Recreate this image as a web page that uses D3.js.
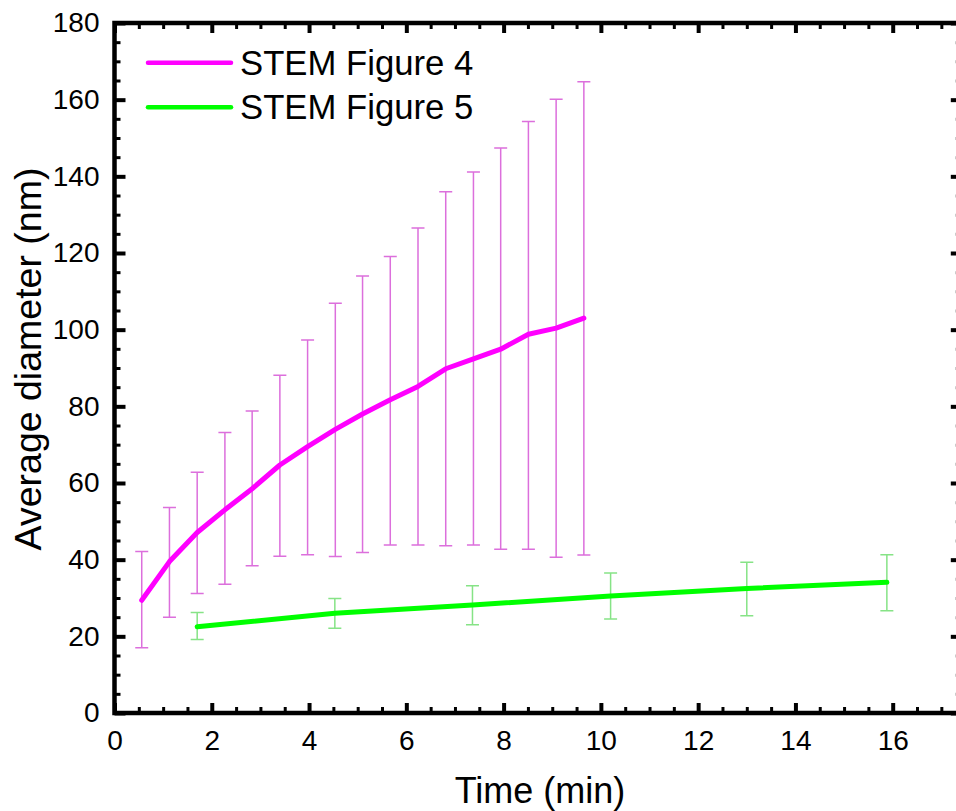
<!DOCTYPE html>
<html>
<head>
<meta charset="utf-8">
<script src="https://cdn.jsdelivr.net/npm/d3@7"></script>
<style>
  html, body { margin: 0; padding: 0; background: #fff; }
  svg { display: block; font-family: "Liberation Sans", Arial, sans-serif; }
</style>
</head>
<body>
<svg id="chart" width="956" height="811"></svg>
<script>
// ---- Data ----
const fig4Time = [0.56, 1.13, 1.70, 2.27, 2.83, 3.40, 3.97, 4.54, 5.10, 5.67, 6.24, 6.81, 7.38, 7.94, 8.51, 9.08, 9.65];
const fig4Mean = [29.4, 39.5, 47.1, 53.0, 58.5, 64.7, 69.5, 74.0, 78.0, 81.7, 85.2, 89.8, 92.4, 94.9, 98.8, 100.4, 103.0];
const fig4Low  = [17.0, 25.0, 31.2, 33.6, 38.4, 40.9, 41.3, 40.8, 41.9, 43.8, 43.8, 43.6, 43.8, 42.7, 42.7, 40.6, 41.2];
const fig4High = [42.1, 53.6, 62.8, 73.2, 78.8, 88.1, 97.3, 106.9, 114.0, 119.1, 126.5, 136.0, 141.1, 147.4, 154.3, 160.1, 164.7];

const fig5Time = [1.70, 4.53, 7.36, 10.20, 13.00, 15.88];
const fig5Mean = [22.5, 26.0, 28.2, 30.5, 32.5, 34.1];
const fig5Low  = [19.2, 22.1, 23.0, 24.5, 25.4, 26.7];
const fig5High = [26.2, 29.9, 33.2, 36.5, 39.3, 41.3];

const seriesNames = ["STEM Figure 4", "STEM Figure 5"];
const xTicks = [0, 2, 4, 6, 8, 10, 12, 14, 16];
const yTicks = [0, 20, 40, 60, 80, 100, 120, 140, 160, 180];
const xTitle = "Time (min)";
const yTitle = "Average diameter (nm)";

// ---- Layout ----
const svg = d3.select("#chart");
const pL = 114.5, pR = 960.8, pT = 23, pB = 713;
const x = d3.scaleLinear().domain([0, 17.4]).range([pL, pR]);
const y = d3.scaleLinear().domain([0, 180]).range([pB, pT]);

const lineColors = ["#ff00ff", "#00ff00"];
const errColors = ["#dc6fdc", "#86e386"];

const series = [
  { t: fig4Time, m: fig4Mean, lo: fig4Low, hi: fig4High },
  { t: fig5Time, m: fig5Mean, lo: fig5Low, hi: fig5High }
].map((s, i) => ({
  name: seriesNames[i],
  color: lineColors[i],
  err: errColors[i],
  pts: s.t.map((t, j) => ({ t, m: s.m[j], lo: s.lo[j], hi: s.hi[j] }))
}));

// ---- Error bars ----
const capHalf = 6.5;
series.forEach(s => {
  const g = svg.append("g").attr("stroke", s.err).attr("stroke-width", 1.5).attr("fill", "none");
  g.selectAll("path").data(s.pts).join("path")
    .attr("d", d => {
      const cx = x(d.t), yl = y(d.lo), yh = y(d.hi);
      return `M${cx},${yl}V${yh}M${cx - capHalf},${yh}H${cx + capHalf}M${cx - capHalf},${yl}H${cx + capHalf}`;
    });
});

// ---- Lines ----
const line = d3.line().x(d => x(d.t)).y(d => y(d.m));
series.forEach(s => {
  svg.append("path").datum(s.pts)
    .attr("d", line)
    .attr("fill", "none")
    .attr("stroke", s.color)
    .attr("stroke-width", 5)
    .attr("stroke-linejoin", "round")
    .attr("stroke-linecap", "round");
});

// ---- Axes ----
const minorX = d3.range(0, 17.4, 0.5).filter(v => Math.abs(v % 2) > 1e-9);
const minorY = d3.range(0, 181, 5).filter(v => v % 20 !== 0);

function styleAxis(g, w) {
  g.select(".domain").remove();
  g.selectAll(".tick line").attr("stroke", "#000").attr("stroke-width", w);
  g.selectAll(".tick text").attr("fill", "#000").attr("font-size", 28)
    .attr("font-family", "'Liberation Sans', Arial, sans-serif");
}

// bottom
svg.append("g").attr("transform", `translate(0,${pB})`)
  .call(d3.axisBottom(x).tickValues(xTicks).tickFormat(d3.format("d")).tickSize(-10).tickPadding(17))
  .call(g => styleAxis(g, 4));
svg.append("g").attr("transform", `translate(0,${pB})`)
  .call(d3.axisBottom(x).tickValues(minorX).tickFormat("").tickSize(-6))
  .call(g => styleAxis(g, 3));
// top
svg.append("g").attr("transform", `translate(0,${pT})`)
  .call(d3.axisTop(x).tickValues(xTicks).tickFormat("").tickSize(-10))
  .call(g => styleAxis(g, 4));
svg.append("g").attr("transform", `translate(0,${pT})`)
  .call(d3.axisTop(x).tickValues(minorX).tickFormat("").tickSize(-6))
  .call(g => styleAxis(g, 3));
// left
svg.append("g").attr("transform", `translate(${pL},0)`)
  .call(d3.axisLeft(y).tickValues(yTicks).tickFormat(d3.format("d")).tickSize(-11).tickPadding(15))
  .call(g => styleAxis(g, 4));
svg.append("g").attr("transform", `translate(${pL},0)`)
  .call(d3.axisLeft(y).tickValues(minorY).tickFormat("").tickSize(-6))
  .call(g => styleAxis(g, 3));
// right
svg.append("g").attr("transform", `translate(${pR},0)`)
  .call(d3.axisRight(y).tickValues(yTicks).tickFormat("").tickSize(-10))
  .call(g => styleAxis(g, 4));
svg.append("g").attr("transform", `translate(${pR},0)`)
  .call(d3.axisRight(y).tickValues(minorY).tickFormat("").tickSize(-5))
  .call(g => styleAxis(g, 3));

// frame
svg.append("rect")
  .attr("x", pL).attr("y", pT)
  .attr("width", pR - pL).attr("height", pB - pT)
  .attr("fill", "none").attr("stroke", "#000").attr("stroke-width", 4.5);

// ---- Axis titles ----
svg.append("text")
  .attr("x", 540).attr("y", 803)
  .attr("text-anchor", "middle")
  .attr("font-size", 36)
  .attr("fill", "#000")
  .text(xTitle);

svg.append("text")
  .attr("transform", "translate(41,359) rotate(-90)")
  .attr("text-anchor", "middle")
  .attr("font-size", 37.5)
  .attr("fill", "#000")
  .text(yTitle);

// ---- Legend ----
const legY = [62.7, 107.3];
series.forEach((s, i) => {
  svg.append("line")
    .attr("x1", 148).attr("x2", 231)
    .attr("y1", legY[i]).attr("y2", legY[i])
    .attr("stroke", s.color).attr("stroke-width", 4.5)
    .attr("stroke-linecap", "round");
  svg.append("text")
    .attr("x", 240).attr("y", legY[i] + 12)
    .attr("font-size", 34.7)
    .attr("fill", "#000")
    .text(s.name);
});
</script>
</body>
</html>
